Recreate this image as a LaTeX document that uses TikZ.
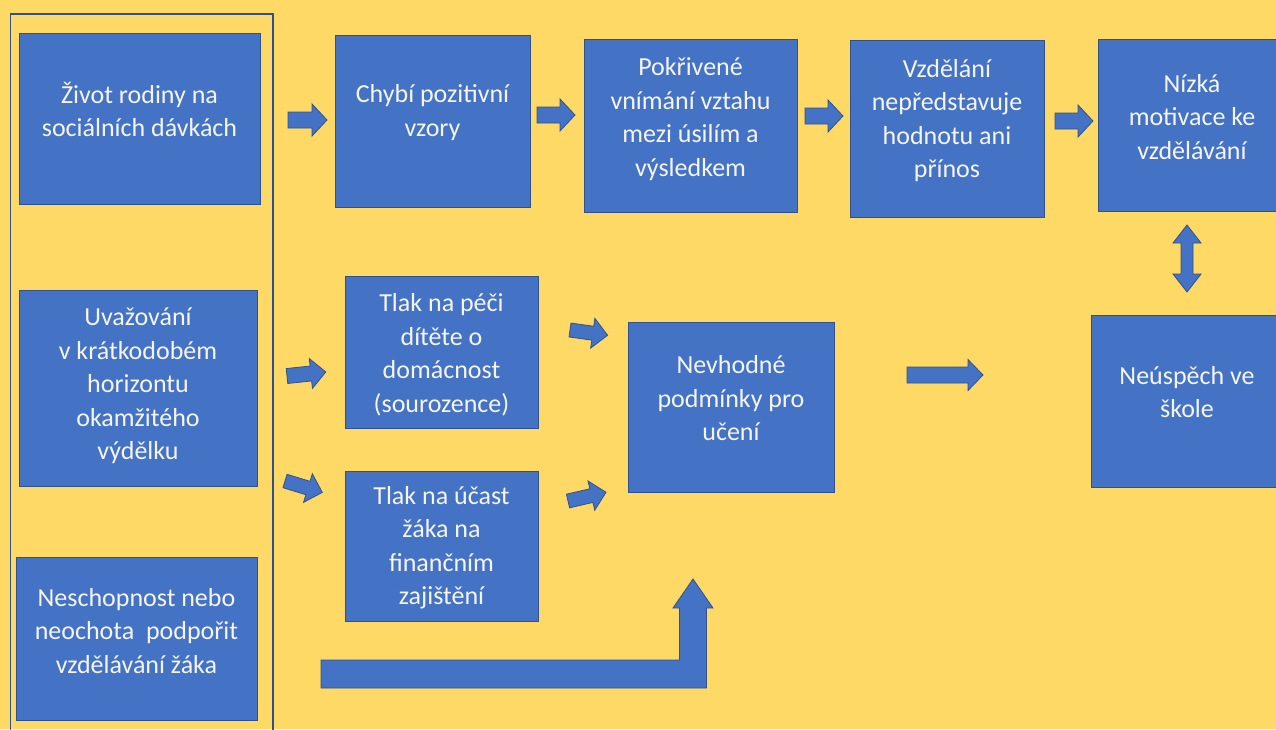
\documentclass[tikz,border=0pt]{standalone}
\usepackage{fontspec}
\setmainfont{Carlito}
\definecolor{bgy}{HTML}{FFD966}
\definecolor{bfill}{HTML}{4472C4}
\definecolor{bline}{HTML}{2F528F}
\tikzset{
  bx/.style={draw=bline, line width=1pt, fill=bfill, inner sep=0pt},
  txt/.style={text=white!96!black, align=center, font=\fontsize{26}{33.5}\selectfont, inner sep=0pt},
  barr/.style={fill=bfill, draw=bline, line width=0.8pt, line join=miter},
  frameline/.style={draw=bline, line width=1.4pt}
}
\newcommand{\blockarrow}[8]{%
  \coordinate (#1) at (#2,#3);
  \filldraw[barr, shift={(#2,#3)}, rotate=#4] (0,{-#6}) -- ({#5-#8},{-#6}) -- ({#5-#8},{-#7}) -- (#5,0) -- ({#5-#8},{#7}) -- ({#5-#8},{#6}) -- (0,{#6}) -- cycle;}
\begin{document}
\begin{tikzpicture}[x=1pt,y=-1pt]
\useasboundingbox (0,0) rectangle (1276,729);
\clip (0,0) rectangle (1276,729);
\fill[bgy] (0,0) rectangle (1276,729);
% left frame
\draw[frameline] (10.5,14) rectangle (273,745);
% boxes
\node[bx, minimum width=241pt, minimum height=171pt] (b1) at (139.5,118.5) {};
\node[bx, minimum width=195pt, minimum height=172pt] (b2) at (432.5,121) {};
\node[bx, minimum width=213pt, minimum height=173pt] (b3) at (690.5,125.5) {};
\node[bx, minimum width=194pt, minimum height=177pt] (b4) at (947,128.5) {};
\node[bx, minimum width=188pt, minimum height=172pt] (b5) at (1192,125) {};
\node[bx, minimum width=238pt, minimum height=196pt] (b6) at (138,388) {};
\node[bx, minimum width=193pt, minimum height=152pt] (b7) at (441.5,352) {};
\node[bx, minimum width=193pt, minimum height=150pt] (b8) at (441.5,546) {};
\node[bx, minimum width=206pt, minimum height=170pt] (b9) at (731,407) {};
\node[bx, minimum width=192pt, minimum height=172pt] (b10) at (1187,401) {};
\node[bx, minimum width=241pt, minimum height=163pt] (b11) at (136.5,638.5) {};
% texts
\node[txt] (t1) at ([yshift=9pt]b1.center) {Život rodiny na\\sociálních dávkách};
\node[txt] (t2) at ([yshift=8.5pt]b2.center) {Chybí pozitivní\\vzory};
\node[txt] (t3) at ([yshift=6.5pt]b3.center) {Pokřivené\\vnímání vztahu\\mezi úsilím a\\výsledkem};
\node[txt] (t4) at ([yshift=8pt]b4.center) {Vzdělání\\nepředstavuje\\hodnotu ani\\přínos};
\node[txt] (t5) at ([yshift=8pt]b5.center) {Nízká\\motivace ke\\vzdělávání};
\node[txt] (t6) at ([yshift=2pt]b6.center) {Uvažování\\v krátkodobém\\horizontu\\okamžitého\\výdělku};
\node[txt] (t7) at ([yshift=-3pt]b7.center) {Tlak na péči\\dítěte o\\domácnost\\(sourozence)};
\node[txt] (t8) at ([yshift=-1.5pt]b8.center) {Tlak na účast\\žáka na\\finančním\\zajištění};
\node[txt] (t9) at ([yshift=8.5pt]b9.center) {Nevhodné\\podmínky pro\\učení};
\node[txt] (t10) at ([yshift=9pt]b10.center) {Neúspěch ve\\škole};
\node[txt] (t11) at ([yshift=7.5pt]b11.center) {Neschopnost nebo\\neochota\ \ podpořit\\vzdělávání žáka};
% block arrows
\blockarrow{a1}{288}{120}{0}{39}{8}{16}{15}
\blockarrow{a2}{537}{115}{0}{38}{8}{16}{15}
\blockarrow{a3}{805}{116}{0}{38}{8}{16}{15}
\blockarrow{a4}{1055}{121}{0}{38}{8}{16}{15}
\blockarrow{a5}{907}{375}{0}{76}{8}{15.5}{15}
\blockarrow{a6}{287}{376}{6}{39}{7.5}{15}{15}
\blockarrow{a7}{285}{481}{-17}{39}{7}{15}{15}
\blockarrow{a8}{570}{330}{-8}{38}{7}{15}{15}
\blockarrow{a9}{568}{501}{13}{39}{7}{15}{15}
% double arrow between b5 and b10
\filldraw[barr] (1187,225) -- (1201,243) -- (1193,243) -- (1193,274) -- (1201,274) -- (1187,292) -- (1173,274) -- (1181,274) -- (1181,243) -- (1173,243) -- cycle;
% bent arrow
\filldraw[barr] (321,660) -- (679.5,660) -- (679.5,608) -- (673,608) -- (693,579) -- (713,608) -- (706.5,608) -- (706.5,688) -- (321,688) -- cycle;
\end{tikzpicture}
\end{document}
